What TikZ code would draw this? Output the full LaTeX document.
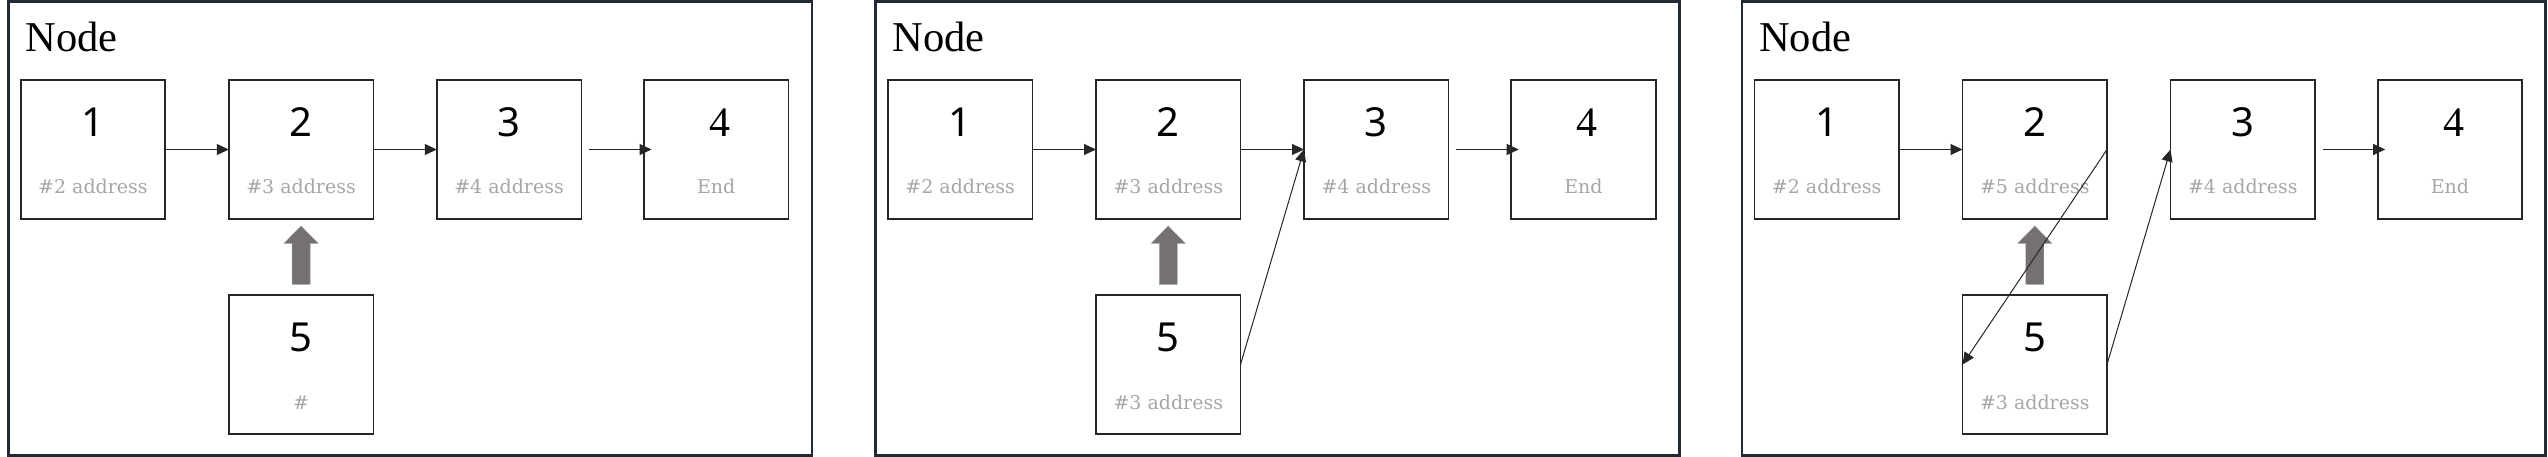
\documentclass[tikz,border=0pt]{standalone}
\usepackage{fontspec}
\setmainfont{DejaVu Serif}
\newfontfamily\titlefont{Liberation Serif}
\newfontfamily\numfont{Noto Sans}
\newfontfamily\subfont{DejaVu Serif}
\usetikzlibrary{arrows.meta,calc}

\definecolor{framec}{RGB}{34,42,53}
\definecolor{boxc}{RGB}{38,38,38}
\definecolor{subc}{RGB}{166,166,166}
\definecolor{bigarr}{RGB}{118,113,113}

\tikzset{
  panel/.style={draw=framec, line width=2.7pt, minimum width=803.7pt, minimum height=454pt, inner sep=0pt, outer sep=0pt, anchor=north west},
  cell/.style={draw=boxc, line width=1.6pt, minimum width=144.5pt, minimum height=139pt, inner sep=0pt, outer sep=0pt, anchor=north west},
  num/.style={font=\numfont\fontsize{40}{40}\selectfont, anchor=base, inner sep=0pt},
  numserif/.style={font=\titlefont\fontsize{42}{42}\selectfont, anchor=base, inner sep=0pt},
  sub/.style={font=\subfont\fontsize{19}{19}\selectfont, text=subc, anchor=base, inner sep=0pt},
  ttl/.style={font=\titlefont\fontsize{42.5}{42.5}\selectfont, anchor=base west, inner sep=0pt},
  link/.style={draw=boxc, line width=1pt, -{Triangle[length=12pt,width=11pt]}},
  push/.style={fill=bigarr, draw=bigarr!70!white, line width=0.4pt}
}

% #1 prefix, #2 frame left, #3 text of box 2, #4 text of box 5
\newcommand\linkpanel[4]{%
  \node[panel] (#1f) at (#2,1.3) {};
  \node[ttl] (#1t) at (#2+17,52) {Node};
  \node[cell] (#1b1) at (#2+12.4,80) {};
  \node[cell] (#1b2) at (#2+220.5,80) {};
  \node[cell] (#1b3) at (#2+428.5,80) {};
  \node[cell] (#1b4) at (#2+635.7,80) {};
  \node[cell] (#1b5) at (#2+220.5,295) {};
  \node[num] (#1n1) at ([yshift=-56.5pt]#1b1.north) {1};
  \node[num] (#1n2) at ([yshift=-56.5pt]#1b2.north) {2};
  \node[num] (#1n3) at ([yshift=-56.5pt]#1b3.north) {3};
  \node[numserif] (#1n4) at ([xshift=4pt,yshift=-56.5pt]#1b4.north) {4};
  \node[num] (#1n5) at ([yshift=-56.5pt]#1b5.north) {5};
  \node[sub] (#1s1) at ([yshift=-114pt]#1b1.north) {\#2 address};
  \node[sub] (#1s2) at ([yshift=-114pt]#1b2.north) {#3};
  \node[sub] (#1s3) at ([yshift=-114pt]#1b3.north) {\#4 address};
  \node[sub] (#1s4) at ([yshift=-114pt]#1b4.north) {End};
  \node[sub] (#1s5) at ([yshift=-114pt]#1b5.north) {#4};
  \fill[push] ($(#1b2.south)+(0,7)$) -- ($(#1b2.south)+(17,24.3)$) -- ($(#1b2.south)+(9,24.3)$)
     -- ($(#1b5.north)+(9,-10.7)$) -- ($(#1b5.north)+(-9,-10.7)$)
     -- ($(#1b2.south)+(-9,24.3)$) -- ($(#1b2.south)+(-17,24.3)$) -- cycle;
  \draw[link] (#1b1.east) -- (#1b2.west);
  \draw[link] ([xshift=7.5pt]#1b3.east) -- ([xshift=7.5pt]#1b4.west);
}

\begin{document}
\begin{tikzpicture}[x=1pt,y=-1pt]
\useasboundingbox (0,0) rectangle (2548,457);

\linkpanel{a}{8.3}{\#3 address}{\#}
\draw[link] (ab2.east) -- (ab3.west);

\linkpanel{b}{875.5}{\#3 address}{\#3 address}
\draw[link] (bb2.east) -- (bb3.west);
\draw[link] (bb5.east) -- (bb3.west);

\linkpanel{c}{1742}{\#5 address}{\#3 address}
\draw[link] (cb2.east) -- (cb5.west);
\draw[link] (cb5.east) -- (cb3.west);
\end{tikzpicture}
\end{document}
